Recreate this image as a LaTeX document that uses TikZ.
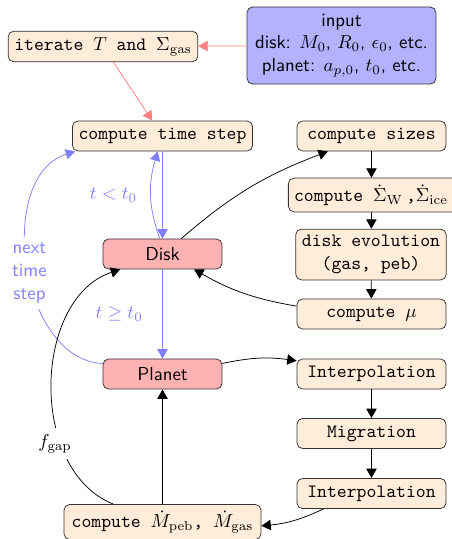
\documentclass[tikz,border=0pt]{standalone}
\usetikzlibrary{arrows.meta}
\begin{document}
\begin{tikzpicture}[x=0.532pt,y=0.532pt,
  box/.style={draw=black!80, rounded corners=3pt, fill=orange!15, font=\ttfamily, minimum height=16pt, inner sep=3.3pt},
  rbox/.style={box, minimum width=79.3pt},
  redbox/.style={draw=black!80, rounded corners=3pt, fill=red!30, font=\sffamily, minimum height=16pt, minimum width=63.3pt},
  tip/.style={-{Triangle[length=5pt,width=5.5pt]}},
  blk/.style={tip, draw=black},
  redarr/.style={tip, draw=red!50},
  bluearr/.style={tip, draw=blue!50},
  bluelab/.style={text=blue!50}]
\useasboundingbox (0,0) rectangle (452,-539);
% nodes
\node[box] (iter) at (103,-46.5) {iterate $T$ and $\Sigma_{\rm gas}$};
\node[draw=black!80, rounded corners=3pt, fill=blue!30, font=\sffamily, align=center,
      minimum width=100.5pt, minimum height=41pt] (input) at (341.5,-45.5)
      {input\\disk: $M_0$, $R_0$, $\epsilon_0$, etc.\\planet: $a_{p,0}$, $t_0$, etc.};
\node[box] (ts) at (162.5,-136) {compute time step};
\node[rbox] (sizes) at (371.5,-136) {compute sizes};
\node[box, anchor=west, minimum height=18pt, minimum width=92pt, text depth=2pt] (sig) at (288,-195) {\hspace*{-2pt}compute $\dot\Sigma_{\rm W}$\,,$\dot\Sigma_{\rm ice}$\hspace*{2pt}};
\node[rbox, align=center, minimum height=27pt] (evo) at (371,-254.5) {disk evolution\\(gas, peb)};
\node[rbox] (mu) at (371.5,-314) {compute $\mu$};
\node[redbox] (disk) at (162.5,-254) {Disk};
\node[redbox] (planet) at (162.5,-374) {Planet};
\node[rbox] (ip1) at (371.5,-374) {Interpolation};
\node[rbox] (mig) at (371.5,-433.5) {Migration};
\node[rbox] (ip2) at (371.5,-493.5) {Interpolation};
\node[box, minimum width=104.8pt, minimum height=17pt] (mdot) at (162.5,-522) {compute $\dot M_{\rm peb}$, $\dot M_{\rm gas}$};
% red connectors
\draw[redarr] (input) -- (iter);
\draw[redarr] (iter) -- (ts);
% blue connectors
\draw[bluearr] (ts) -- node[left, bluelab, xshift=-10pt] {$t<t_0$} (disk);
\draw[bluearr] ([xshift=-1.5pt]disk.north) to[bend left=18] ([xshift=-2.5pt]ts.south);
\draw[bluearr] (disk) -- node[left, bluelab, xshift=-7pt] {$t\geq t_0$} (planet);
\draw[bluearr] (planet) to[bend left=80] node[pos=0.5, fill=white, bluelab, font=\sffamily, align=center, xshift=1pt, yshift=-4pt] {next\\time\\step} (ts);
% black connectors
\draw[blk] (disk) to[bend left=10] (sizes);
\draw[blk] (sizes) -- (sizes|-sig.north);
\draw[blk] (sizes|-sig.south) -- (evo);
\draw[blk] (evo) -- (mu);
\draw[blk] (mu) to[bend left=10] (disk);
\draw[blk] (planet) to[bend left=10] (ip1);
\draw[blk] (ip1) -- (mig);
\draw[blk] (mig) -- (ip2);
\draw[blk] (ip2) to[bend left=10] (mdot);
\draw[blk] (mdot) -- (planet);
\draw[blk] (mdot) to[bend left=70] node[pos=0.3, fill=white, xshift=-3pt] {$f_{\rm gap}$} (disk);
\end{tikzpicture}
\end{document}
